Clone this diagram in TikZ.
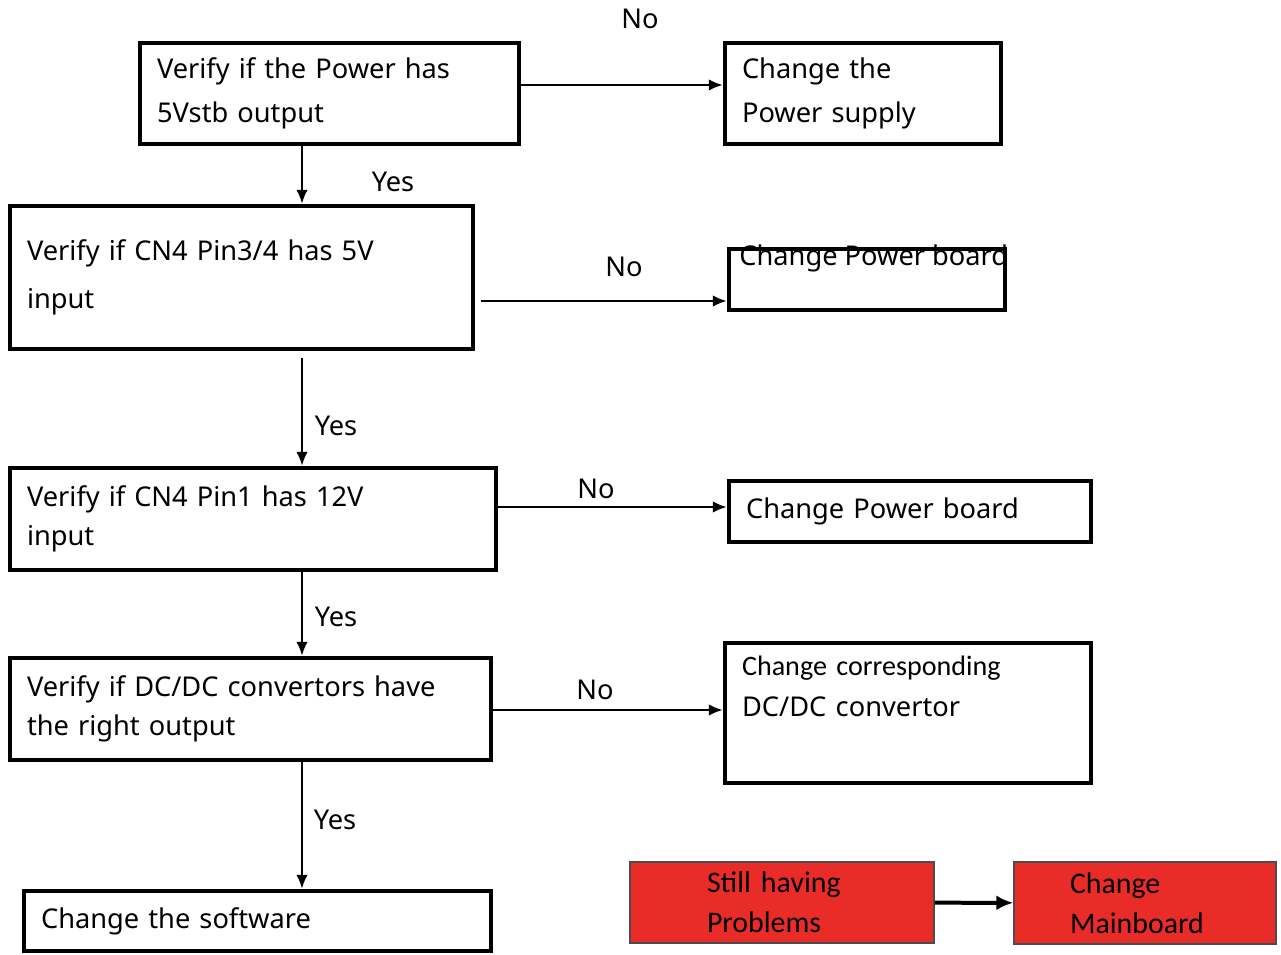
\documentclass[tikz,border=0pt]{standalone}
\usepackage{fontspec}
\setmainfont{Noto Sans}
\newfontfamily\calfont{Carlito}
\usetikzlibrary{arrows.meta,positioning,calc}
\definecolor{alarmred}{RGB}{234,44,40}

\begin{document}
\begin{tikzpicture}[
      x=0.02cm, y=-0.02cm,
      box/.style={draw, line width=0.9mm, align=left, inner xsep=3.4mm,
      inner ysep=0pt, font=\fontsize{15.5}{25}\selectfont},
      redbox/.style={draw=black!70, fill=alarmred, line width=0.3mm, align=left,
      inner ysep=0pt, font=\calfont\fontsize{17}{23}\selectfont},
      answer/.style={inner sep=0pt, font=\fontsize{15.5}{18}\selectfont},
      flow/.style={-{Latex[length=2.8mm,width=2.3mm]}, line width=0.4mm}
    ]
    \useasboundingbox (0,0) rectangle (1281,955);
    % main column
    \node[box, text width=69mm, minimum height=20.2mm] (power) at (329.5,93.5)
      {Verify if the Power has\\5Vstb output};
    \node[box, text width=85.8mm, minimum height=28.6mm,
      font=\fontsize{15.5}{27}\selectfont] (pin34) at (241.5,277.5)
      {Verify if CN4 Pin3/4 has 5V\\input};
    \node[box, text width=90.4mm, minimum height=20.4mm,
      font=\fontsize{15.5}{22.5}\selectfont] (pin1) at (253,519)
      {Verify if CN4 Pin1 has 12V\\input};
    \node[box, text width=89.4mm, minimum height=20.4mm,
      font=\fontsize{15.5}{22.5}\selectfont] (dcdc) at (250.5,709)
      {Verify if DC/DC convertors have\\the right output};
    \node[box, text width=86.6mm, minimum height=12mm] (software) at (257.5,921)
      {Change the software};
    % right column
    \node[box, text width=48.4mm, minimum height=20.2mm] (supply) at (863,93.5)
      {Change the\\Power supply};
    \node[box, text width=48.4mm, minimum height=12.2mm] (board1) at (867,279.5) {};
    \node[answer, anchor=west] (board1text) at (739,258) {Change Power board};
    \node[box, text width=65.6mm, minimum height=12.2mm] (board2) at (910,511.5)
      {Change Power board};
    \node[box, text width=66.4mm, minimum height=28mm,
      font=\calfont\fontsize{16}{23}\selectfont] (convertor) at (908,713)
      {Change corresponding\\{\fontsize{15.5}{23}\rmfamily DC/DC convertor}\\\mbox{}\\[-5.4mm]\mbox{}};
    % still failing
    \node[redbox, text width=30mm, inner xsep=15.4mm, minimum height=16.2mm] (still)
      at (782,902.5) {Still having\\Problems};
    \node[redbox, text width=30mm, inner xsep=11.2mm, minimum height=16.4mm] (mainboard)
      at (1145,903) {Change\\Mainboard};
    % answers
    \node[answer] (no1) at (640,19) {No};
    \node[answer] (yes1) at (393,182) {Yes};
    \node[answer] (no2) at (624,267) {No};
    \node[answer] (yes2) at (336,426) {Yes};
    \node[answer] (no3) at (596,489) {No};
    \node[answer] (yes3) at (336,617) {Yes};
    \node[answer] (no4) at (595,690) {No};
    \node[answer] (yes4) at (335,820) {Yes};
    % arrows
    \coordinate (spine) at (302,0);
    \coordinate (rowA) at (0,85);
    \coordinate (rowB) at (0,301);
    \coordinate (rowC) at (0,507);
    \coordinate (rowD) at (0,710);
    \draw[flow] (power.east |- rowA) -- (supply.west |- rowA);
    \draw[flow] ($(pin34.east |- rowB)+(6,0)$) -- (board1.west |- rowB);
    \draw[flow] (pin1.east |- rowC) -- (board2.west |- rowC);
    \draw[flow] (dcdc.east |- rowD) -- (convertor.west |- rowD);
    \draw[flow] (power.south -| spine) -- (pin34.north -| spine);
    \draw[flow] ($(pin34.south -| spine)+(0,7)$) -- (pin1.north -| spine);
    \draw[flow] (pin1.south -| spine) -- (dcdc.north -| spine);
    \draw[flow] (dcdc.south -| spine) -- (software.north -| spine);
    \draw[flow, line width=0.8mm, -{Latex[length=3.4mm,width=3mm]}] (still) -- (mainboard);
  \end{tikzpicture}
\end{document}
